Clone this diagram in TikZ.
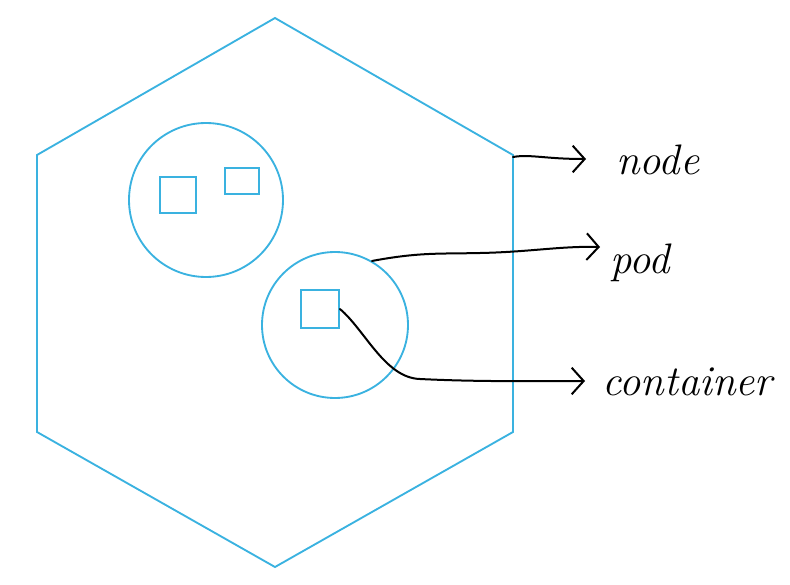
\documentclass[tikz,border=0pt]{standalone}
\usepackage{tikz}
\usetikzlibrary{arrows.meta,positioning,calc}
\definecolor{PodBlue}{RGB}{58,178,224}

\begin{document}
\begin{tikzpicture}[x=0.75pt,y=-0.75pt,
  hexline/.style={draw=PodBlue, line width=1.4pt, line join=miter},
  podcirc/.style={circle, draw=PodBlue, line width=1.4pt, inner sep=0pt},
  ctrbox/.style={rectangle, draw=PodBlue, line width=1.4pt, inner sep=0pt},
  hand/.style={anchor=base west, inner sep=0pt, font=\fontsize{32}{32}\selectfont\itshape},
  arrow/.style={-{Straight Barb[length=9pt,width=20pt,line width=1.5pt]}, line width=1.5pt, black, line cap=round}
]
  \useasboundingbox (0,0) rectangle (790,585);

  % Node (hexagon)
  \coordinate (hexT) at (275,18);
  \coordinate (hexR) at (513,155);
  \coordinate (hexRB) at (513,432);
  \coordinate (hexB) at (275,567);
  \coordinate (hexLB) at (37,432);
  \coordinate (hexL) at (37,155);
  \draw[hexline] (hexT) -- (hexR) -- (hexRB) -- (hexB) -- (hexLB) -- (hexL) -- cycle;

  % Pods and containers
  \node[podcirc, minimum size=115.5pt] (pod1) at (206,200) {};
  \node[podcirc, minimum size=109.5pt] (pod2) at (335,325) {};
  \node[ctrbox, minimum width=27pt, minimum height=27pt] (ctr1) at (178,195) {};
  \node[ctrbox, minimum width=25.5pt, minimum height=20pt] (ctr2) at (242,181) {};
  \node[ctrbox, minimum width=28.5pt, minimum height=28.5pt] (ctr3) at (320,309) {};

  % Labels
  \node[hand] (lblNode) at (616,175) {node};
  \node[hand] (lblPod) at (610,273) {pod};
  \node[hand] (lblCtr) at (602,395) {container};
  \coordinate (tipNode) at (586,159);
  \coordinate (tipPod) at (600,247);
  \coordinate (tipCtr) at (585,381);

  % Arrows
  \draw[arrow] ($(hexR)+(0,2)$) .. controls (530,154) and (545,159) .. (tipNode);
  \draw[arrow] (pod2.60) .. controls (420,252) and (440,254) .. (480,253)
    .. controls (530,252) and (560,246) .. (tipPod);
  \draw[arrow] (ctr3.east) .. controls (365,330) and (385,378) .. (420,379)
    .. controls (480,382) and (540,381) .. (tipCtr);
\end{tikzpicture}
\end{document}
